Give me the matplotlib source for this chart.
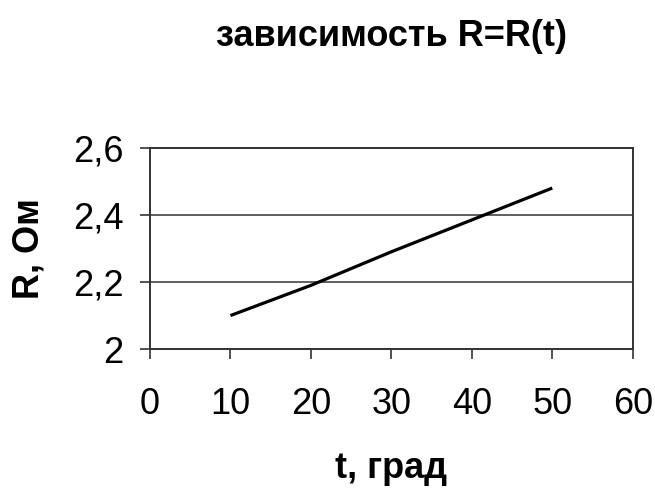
import matplotlib.pyplot as plt

# temperature, grad and resistance, Ohm
t = [10, 20, 30, 40, 50]
R = [2.10, 2.19, 2.29, 2.385, 2.48]

x_ticks = [0, 10, 20, 30, 40, 50, 60]
y_ticks = [2.0, 2.2, 2.4, 2.6]
y_labels = ['2', '2,2', '2,4', '2,6']

plt.rcParams['font.family'] = ['Liberation Sans', 'DejaVu Sans']

fig = plt.figure(figsize=(6.55, 4.91), dpi=100)
ax = fig.add_axes([0.229, 0.289, 0.737, 0.410])

ax.plot(t, R, color='black', linewidth=2.3, solid_capstyle='butt')

ax.set_xlim(0, 60)
ax.set_ylim(2.0, 2.6)
ax.set_xticks(x_ticks)
ax.set_yticks(y_ticks)
ax.set_yticklabels(y_labels)
ax.tick_params(axis='both', labelsize=26, direction='out', length=7, width=1.2, color='#333333')
ax.tick_params(axis='x', pad=20)
ax.tick_params(axis='y', pad=12)

ax.yaxis.grid(True, color='#444444', linewidth=1.2)
ax.set_axisbelow(True)
for s in ax.spines.values():
    s.set_color('#333333')
    s.set_linewidth(1.4)

ax.set_title('зависимость R=R(t)', fontsize=26, fontweight='bold', pad=73)
ax.set_xlabel('t, град', fontsize=26, fontweight='bold', labelpad=21)
ax.set_ylabel('R, Ом', fontsize=26, fontweight='bold', labelpad=19)

fig.savefig('out.png', dpi=100)
